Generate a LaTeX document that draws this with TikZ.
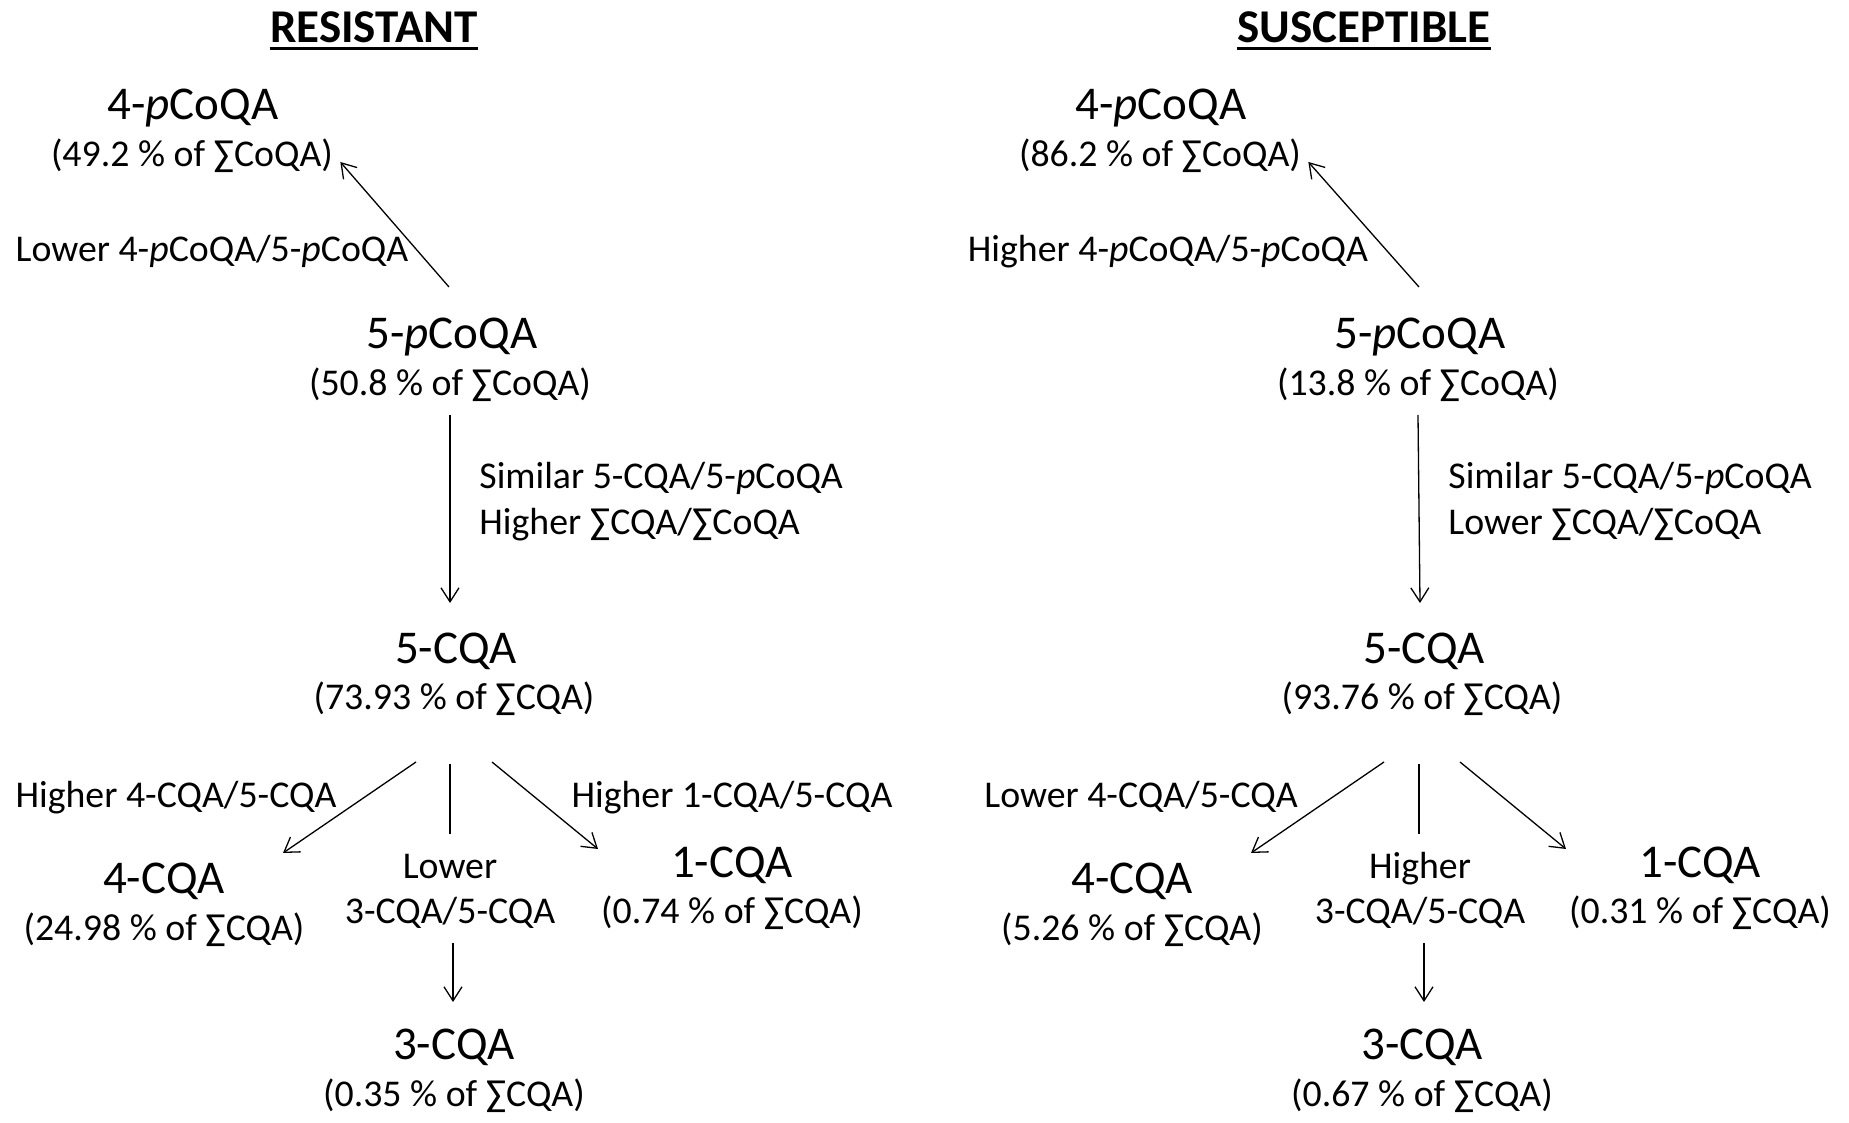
\documentclass[tikz,border=0pt]{standalone}
\usepackage{fontspec}
\setmainfont{Carlito}
\usetikzlibrary{arrows.meta}
\tikzset{
  big/.style={font=\fontsize{23.5}{28}\selectfont, inner sep=0pt, anchor=base},
  small/.style={font=\fontsize{18.9}{23}\selectfont, inner sep=0pt, anchor=base},
  smallw/.style={font=\fontsize{18.9}{23}\selectfont, inner sep=0pt, anchor=base west},
  ttl/.style={font=\fontsize{23.5}{28}\selectfont\bfseries, inner sep=0pt, anchor=base},
  arr/.style={line width=0.65pt, -{Straight Barb[length=7pt,width=9pt]}},
  ln/.style={line width=0.65pt},
  uline/.style={line width=1.5pt},
}
\newcommand\pp{\textit{p}}
\begin{document}
\begin{tikzpicture}[x=0.5pt,y=-0.5pt]
\useasboundingbox (0,0) rectangle (1849,1123);
% ---------------- RESISTANT ----------------
\node[ttl] (RT) at (374,43) {RESISTANT};
\draw[uline] ([shift={(0,6)}]RT.base west) -- ([shift={(0,6)}]RT.base east);
\node[big] (R4p) at (193,120) {4-\pp CoQA};
\node[small] (R4pv) at (192,167) {(49.2 \% of ∑CoQA)};
\node[small] (RL1) at (212,262) {Lower 4-\pp CoQA/5-\pp CoQA};
\node[big] (R5p) at (452,349) {5-\pp CoQA};
\node[small] (R5pv) at (450,396) {(50.8 \% of ∑CoQA)};
\node[smallw] (RL2a) at (479,488) {Similar 5-CQA/5-\pp CoQA};
\node[smallw] (RL2b) at (479,534) {Higher ∑CQA/∑CoQA};
\node[big] (R5c) at (456,663) {5-CQA};
\node[small] (R5cv) at (454,709) {(73.93 \% of ∑CQA)};
\node[small] (RL3) at (176,807) {Higher 4-CQA/5-CQA};
\node[small] (RL4) at (732,807) {Higher 1-CQA/5-CQA};
\node[big] (R4c) at (164,893) {4-CQA};
\node[small] (R4cv) at (164,940) {(24.98 \% of ∑CQA)};
\node[small] (RL5a) at (450,878) {Lower};
\node[small] (RL5b) at (450,923) {3-CQA/5-CQA};
\node[big] (R1c) at (732,877) {1-CQA};
\node[small] (R1cv) at (732,923) {(0.74 \% of ∑CQA)};
\node[big] (R3c) at (454,1059) {3-CQA};
\node[small] (R3cv) at (454,1106) {(0.35 \% of ∑CQA)};
\draw[arr] ([shift={(-3,-62)}]R5p.base) -- ([shift={(7,-5)}]R4pv.base east);
\draw[arr] ([shift={(0,19)}]R5pv.base) -- ([shift={(-6,-60)}]R5c.base);
\draw[arr] ([shift={(-38,53)}]R5cv.base) -- ([shift={(119,-40)}]R4c.base);
\draw[ln]  ([shift={(-4,55)}]R5cv.base) -- ([shift={(0,-44)}]RL5a.base);
\draw[arr] ([shift={(38,53)}]R5cv.base) -- ([shift={(-134,-28)}]R1c.base);
\draw[arr] ([shift={(3,20)}]RL5b.base) -- ([shift={(-1,-57)}]R3c.base);
% ---------------- SUSCEPTIBLE ----------------
\node[ttl] (ST) at (1364,43) {SUSCEPTIBLE};
\draw[uline] ([shift={(0,6)}]ST.base west) -- ([shift={(0,6)}]ST.base east);
\node[big] (S4p) at (1161,120) {4-\pp CoQA};
\node[small] (S4pv) at (1160,167) {(86.2 \% of ∑CoQA)};
\node[small] (SL1) at (1168,262) {Higher 4-\pp CoQA/5-\pp CoQA};
\node[big] (S5p) at (1420,349) {5-\pp CoQA};
\node[small] (S5pv) at (1418,396) {(13.8 \% of ∑CoQA)};
\node[smallw] (SL2a) at (1448,488) {Similar 5-CQA/5-\pp CoQA};
\node[smallw] (SL2b) at (1448,534) {Lower ∑CQA/∑CoQA};
\node[big] (S5c) at (1424,663) {5-CQA};
\node[small] (S5cv) at (1422,709) {(93.76 \% of ∑CQA)};
\node[small] (SL3) at (1141,807) {Lower 4-CQA/5-CQA};
\node[big] (S4c) at (1132,893) {4-CQA};
\node[small] (S4cv) at (1132,940) {(5.26 \% of ∑CQA)};
\node[small] (SL5a) at (1420,878) {Higher};
\node[small] (SL5b) at (1420,923) {3-CQA/5-CQA};
\node[big] (S1c) at (1700,877) {1-CQA};
\node[small] (S1cv) at (1700,923) {(0.31 \% of ∑CQA)};
\node[big] (S3c) at (1422,1059) {3-CQA};
\node[small] (S3cv) at (1422,1106) {(0.67 \% of ∑CQA)};
\draw[arr] ([shift={(-1,-62)}]S5p.base) -- ([shift={(7,-5)}]S4pv.base east);
\draw[arr] ([shift={(0,19)}]S5pv.base) -- ([shift={(-4,-60)}]S5c.base);
\draw[arr] ([shift={(-38,53)}]S5cv.base) -- ([shift={(119,-40)}]S4c.base);
\draw[ln]  ([shift={(-3,55)}]S5cv.base) -- ([shift={(-1,-44)}]SL5a.base);
\draw[arr] ([shift={(38,53)}]S5cv.base) -- ([shift={(-134,-28)}]S1c.base);
\draw[arr] ([shift={(4,20)}]SL5b.base) -- ([shift={(2,-57)}]S3c.base);
\end{tikzpicture}
\end{document}
